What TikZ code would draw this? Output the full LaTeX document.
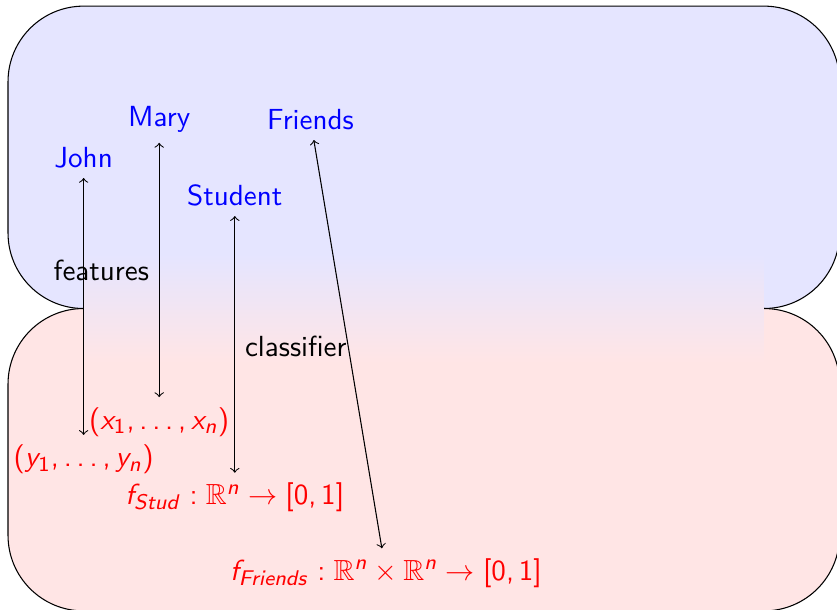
\documentclass[tikz,border=0pt,11pt]{standalone}
\usepackage{amsmath,amssymb}
\usepackage{tikz}
% sans serif math, as on the slides
\SetSymbolFont{operators}{normal}{OT1}{cmss}{m}{n}
\SetSymbolFont{letters}{normal}{OT1}{cmss}{m}{sl}
\DeclareMathSymbol{,}{\mathpunct}{operators}{"2C}
\DeclareMathSymbol{\ldotp}{\mathpunct}{operators}{"2E}

\begin{document}
\begin{tikzpicture}[
  font=\sffamily,
  zone/.style={draw, rounded corners=1cm},
  ent/.style={text=blue}, fn/.style={text=red}]
\useasboundingbox (-0.106,-3.988) rectangle (10.966,4.081);
\draw[zone, fill=blue!10] (0,0) rectangle (11,4);
\draw[zone, fill=red!10] (0,-4) rectangle (11,0);
\shade[top color=blue!10, bottom color=red!10] (1,-0.7) rectangle (10,0.7);
% symbols
\node[ent] (john) at (1,2) {John};
\node[ent] (mary) at (2,2.5) {Mary};
\node[ent] (student) at (3,1.5) {Student};
\node[ent] (friends) at (4,2.5) {Friends};
% their meaning
\node[fn] (xs) at (2,-1.5) {$(x_1,\ldots,x_n)$};
\node[fn] (ys) at (1,-2) {$(y_1,\ldots,y_n)$};
\node[fn] (fstud) at (3,-2.5) {$f_{Stud}:\mathbb{R}^n\to[0,1]$};
\node[fn] (ffriends) at (5,-3.5) {$f_{Friends}:\mathbb{R}^n\times\mathbb{R}^n\to[0,1]$};
\node[anchor=east] (feat) at (2,0.5) {features};
\node[anchor=west] (clf) at (3,-0.5) {classifier};
\draw[<->] (john) -- (ys);
\draw[<->] (mary) -- (xs);
\draw[<->] (student) -- (fstud);
\draw[<->] (friends) -- (ffriends);
\end{tikzpicture}
\end{document}
